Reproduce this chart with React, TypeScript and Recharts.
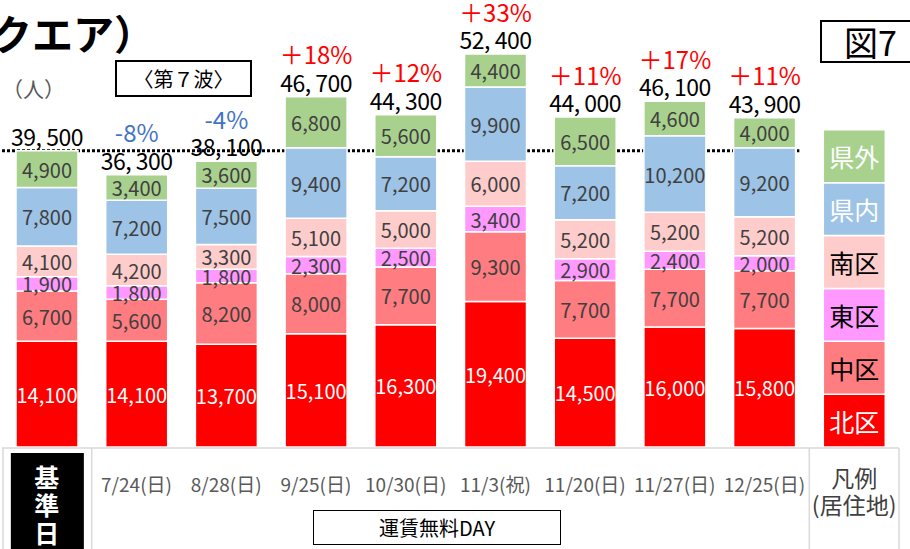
import React from "react";
import { ComposedChart, Bar, Line, XAxis, YAxis, LabelList } from "recharts";

// 基準日 + 8 dates + legend column (凡例)
const categories = ["基準日", "7/24(日)", "8/28(日)", "9/25(日)", "10/30(日)", "11/3(祝)", "11/20(日)", "11/27(日)", "12/25(日)", "凡例"];
const kita = [14100, 14100, 13700, 15100, 16300, 19400, 14500, 16000, 15800, 7050];
const naka = [6700, 5600, 8200, 8000, 7700, 9300, 7700, 7700, 7700, 7050];
const higashi = [1900, 1800, 1800, 2300, 2500, 3400, 2900, 2400, 2000, 7050];
const minami = [4100, 4200, 3300, 5100, 5000, 6000, 5200, 5200, 5200, 7050];
const kennai = [7800, 7200, 7500, 9400, 7200, 9900, 7200, 10200, 9200, 7050];
const kengai = [4900, 3400, 3600, 6800, 5600, 4400, 6500, 4600, 4000, 7050];
const totals = [39500, 36300, 38100, 46700, 44300, 52400, 44000, 46100, 43900, null];
const changes = ["", "-8%", "-4%", "＋18%", "＋12%", "＋33%", "＋11%", "＋17%", "＋11%", ""];
const baseline = 39500;

const W = 910;
const H = 549;
const M = { top: 12, right: 11, left: 2, bottom: 2 };
const AXIS_H = 100;
const BAND = (W - M.left - M.right) / categories.length;
const LEGEND_IDX = categories.length - 1;
const FONT = "'Noto Sans CJK JP', 'Noto Sans', sans-serif";

const series = [
  { key: "kita", name: "北区", fill: "#FF0000", text: "#FFFFFF", legendText: "#FFFFFF" },
  { key: "naka", name: "中区", fill: "#FF7C80", text: "#404040", legendText: "#000000" },
  { key: "higashi", name: "東区", fill: "#FF99FF", text: "#404040", legendText: "#000000" },
  { key: "minami", name: "南区", fill: "#FFCCCC", text: "#404040", legendText: "#000000" },
  { key: "kennai", name: "県内", fill: "#9DC3E6", text: "#404040", legendText: "#FFFFFF" },
  { key: "kengai", name: "県外", fill: "#A9D18E", text: "#404040", legendText: "#FFFFFF" },
];

const data = categories.map((name, i) => ({
  name,
  kita: kita[i],
  naka: naka[i],
  higashi: higashi[i],
  minami: minami[i],
  kennai: kennai[i],
  kengai: kengai[i],
  baseLine: totals[i] != null ? baseline : null,
}));

const fmtTotal = (v: number) => `${Math.floor(v / 1000)}, ${String(v % 1000).padStart(3, "0")}`;

const segLabel = (s: any) => (p: any) => {
  const { x, y, width, height, index, value } = p;
  const cx = x + width / 2;
  const cy = y + height / 2;
  if (index === LEGEND_IDX) {
    return (
      <text x={cx} y={cy} textAnchor="middle" dominantBaseline="central" fill={s.legendText} fontSize={25} fontFamily={FONT}>
        {s.name}
      </text>
    );
  }
  return (
    <text x={cx} y={cy} textAnchor="middle" dominantBaseline="central" fill={s.text} fontSize={20} fontFamily={FONT}>
      {Number(value).toLocaleString("en-US")}
    </text>
  );
};

const totalLabel = (p: any) => {
  const { x, y, width, index } = p;
  const t = totals[index];
  if (t == null) return null;
  const cx = x + width / 2;
  const ch = changes[index];
  return (
    <g fontFamily={FONT}>
      <text x={cx} y={y - 15} textAnchor="middle" dominantBaseline="central" fill="#000" fontSize={23} letterSpacing={-0.5}>
        {fmtTotal(t)}
      </text>
      {ch && (
        <text x={cx} y={y - 43} textAnchor="middle" dominantBaseline="central" fill={ch.startsWith("-") ? "#4472C4" : "#FF0000"} fontSize={24}>
          {ch}
        </text>
      )}
    </g>
  );
};

const tableTop = H - M.bottom - AXIS_H + 1;

const DateTick = (p: any) => {
  const { x, payload, index } = p;
  const left = x - BAND / 2;
  const right = x + BAND / 2;
  const line = { stroke: "#D9D9D9", strokeWidth: 1.5 };
  if (index === 0) {
    return (
      <g fontFamily={FONT}>
        <line x1={left} x2={W - M.right} y1={tableTop} y2={tableTop} {...line} />
        <line x1={left + 1} x2={left + 1} y1={tableTop} y2={H} {...line} />
        <line x1={right} x2={right} y1={tableTop} y2={H} {...line} />
        <rect x={x - 36} y={tableTop + 5} width={73} height={H - tableTop} fill="#000" />
        {["基", "準", "日"].map((c, k) => (
          <text key={c} x={x} y={tableTop + 28 + k * 28} textAnchor="middle" dominantBaseline="central" fill="#fff" fontSize={25} fontWeight={700}>
            {c}
          </text>
        ))}
      </g>
    );
  }
  if (index === LEGEND_IDX) {
    return (
      <g fontFamily={FONT}>
        <line x1={left} x2={left} y1={tableTop} y2={H} {...line} />
        <line x1={right} x2={right} y1={tableTop} y2={H} {...line} />
        <text x={x} y={tableTop + 29} textAnchor="middle" dominantBaseline="central" fill="#404040" fontSize={23}>凡例</text>
        <text x={x} y={tableTop + 56} textAnchor="middle" dominantBaseline="central" fill="#404040" fontSize={23}>(居住地)</text>
      </g>
    );
  }
  return (
    <text x={x} y={tableTop + 35} textAnchor="middle" dominantBaseline="central" fill="#595959" fontSize={19} fontFamily={FONT}>
      {payload.value}
    </text>
  );
};

const boxStyle: React.CSSProperties = {
  position: "absolute",
  boxSizing: "border-box",
  border: "2px solid #000",
  display: "flex",
  alignItems: "center",
  justifyContent: "center",
  background: "#fff",
  color: "#000",
};

export default function App() {
  return (
    <div style={{ position: "relative", width: W, height: H, overflow: "hidden", fontFamily: FONT, background: "#fff" }}>
      <style>{`body{margin:0}`}</style>
      {/* dotted 基準日 line, drawn behind the bars */}
      <div style={{ position: "absolute", left: 0, top: 0 }}>
        <ComposedChart width={W} height={H} data={data} margin={M}>
          <XAxis dataKey="name" height={AXIS_H} tick={false} axisLine={false} tickLine={false} />
          <YAxis hide domain={[0, 58000]} />
          <Line dataKey="baseLine" stroke="#000" strokeWidth={3} strokeDasharray="3 2" dot={false} isAnimationActive={false} />
        </ComposedChart>
      </div>
      <div style={{ position: "absolute", left: 0, top: 0 }}>
        <ComposedChart width={W} height={H} data={data} margin={M}>
          <XAxis dataKey="name" height={AXIS_H} interval={0} axisLine={false} tickLine={false} tick={<DateTick />} />
          <YAxis hide domain={[0, 58000]} />
          {series.map((s) => (
            <Bar key={s.key} dataKey={s.key} stackId="a" fill={s.fill} stroke="#fff" strokeWidth={1.5} barSize={62} isAnimationActive={false}>
              <LabelList dataKey={s.key} content={segLabel(s)} />
              {s.key === "kengai" && <LabelList dataKey={s.key} content={totalLabel} />}
            </Bar>
          ))}
        </ComposedChart>
      </div>
      <div style={{ position: "absolute", left: -9, top: 6, fontSize: 41, fontWeight: 700, color: "#000", whiteSpace: "nowrap", lineHeight: "52px" }}>クエア）</div>
      <div style={{ position: "absolute", left: 2, top: 74, fontSize: 21, color: "#595959", lineHeight: "28px" }}>（人）</div>
      <div style={{ ...boxStyle, left: 115, top: 60, width: 137, height: 37, fontSize: 20 }}>〈第７波〉</div>
      <div style={{ ...boxStyle, left: 820, top: 20, width: 100, height: 43, fontSize: 34, justifyContent: "flex-start", paddingLeft: 22 }}>図7</div>
      <div style={{ ...boxStyle, left: 313, top: 510, width: 248, height: 35, fontSize: 20, border: "1.5px solid #000" }}>運賃無料DAY</div>
    </div>
  );
}
